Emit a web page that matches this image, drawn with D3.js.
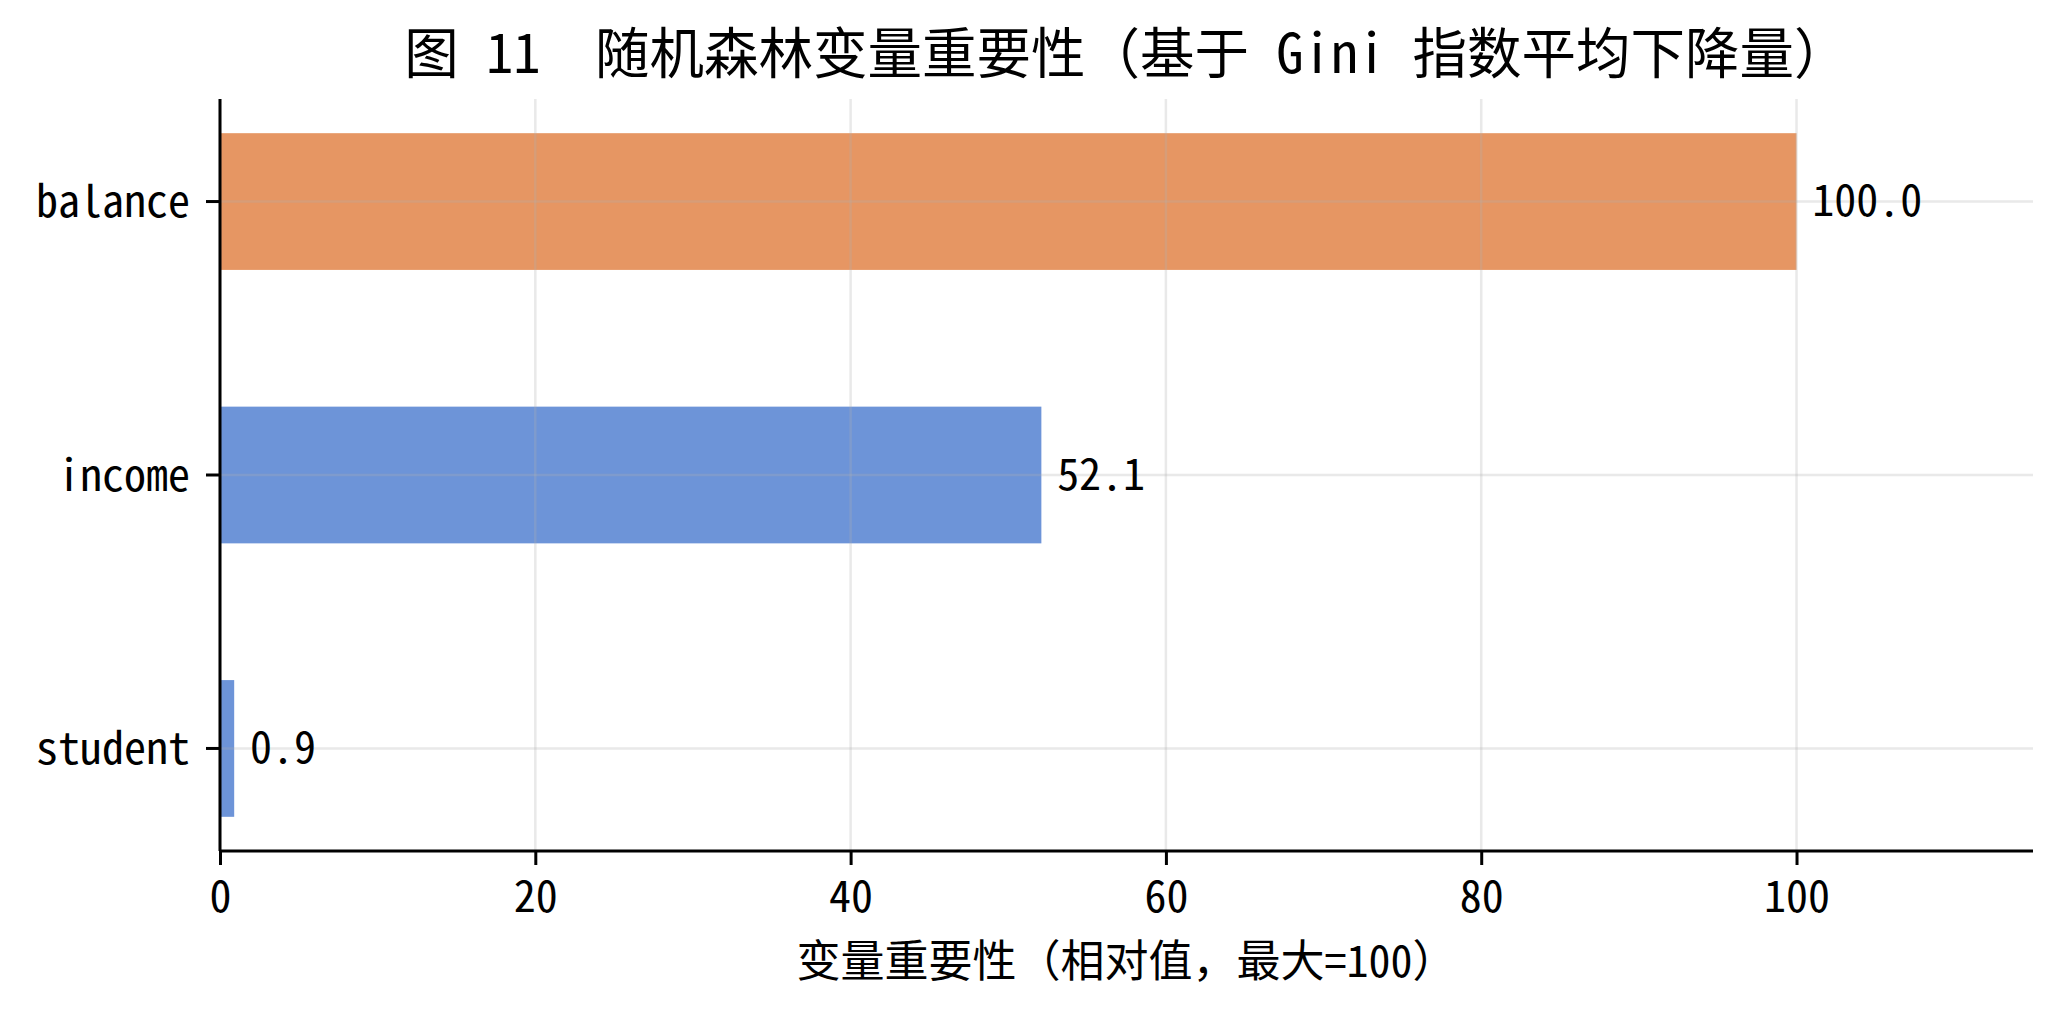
<!DOCTYPE html>
<html>
<head>
<meta charset="utf-8">
<script src="https://cdn.jsdelivr.net/npm/d3@7"></script>
<style>
	body { margin: 0; background: #fff; }
	text { font-family: "Noto Sans Mono CJK SC", "Noto Sans CJK SC", sans-serif; fill: #000; }
</style>
</head>
<body>
<div id="chart"></div>
<script>
// data
const features = ['balance', 'income', 'student'];
const importance = [100.0, 52.1, 0.9];
const barColors = ['#E69663', '#6D94D8', '#6D94D8'];
const xTicks = [0, 20, 40, 60, 80, 100];

const WIDTH = 2062;
const HEIGHT = 1011;
const margin = { top: 99, right: 29, bottom: 160, left: 220 };

var svg = d3.select('#chart').append('svg')
	.attr('width', WIDTH)
	.attr('height', HEIGHT);

var plotW = WIDTH - margin.left - margin.right;
var plotH = HEIGHT - margin.top - margin.bottom;

var g = svg.append('g')
	.attr('transform', 'translate(' + margin.left + ',' + margin.top + ')');

var x = d3.scaleLinear().domain([0, 115]).range([0, plotW]);
var y = d3.scaleBand().domain(features).range([0, plotH])
	.paddingInner(0.5).paddingOuter(0.125);

// bars first, grid goes on top of them
g.selectAll('.bar')
	.data(features)
	.enter().append('rect')
	.attr('class', 'bar')
	.attr('x', x(0))
	.attr('y', function(d) { return y(d); })
	.attr('width', function(d, i) { return x(importance[i]) - x(0); })
	.attr('height', y.bandwidth())
	.attr('fill', function(d, i) { return barColors[i]; });

// grid
g.append('g').selectAll('line')
	.data(xTicks)
	.enter().append('line')
	.attr('x1', function(d) { return x(d); })
	.attr('x2', function(d) { return x(d); })
	.attr('y1', 0).attr('y2', plotH)
	.attr('stroke', '#b0b0b0').attr('stroke-opacity', 0.28).attr('stroke-width', 2.5);
g.append('g').selectAll('line')
	.data(features)
	.enter().append('line')
	.attr('x1', 0).attr('x2', plotW)
	.attr('y1', function(d) { return y(d) + y.bandwidth() / 2; })
	.attr('y2', function(d) { return y(d) + y.bandwidth() / 2; })
	.attr('stroke', '#b0b0b0').attr('stroke-opacity', 0.28).attr('stroke-width', 2.5);

// value labels
g.selectAll('.val')
	.data(features)
	.enter().append('text')
	.attr('class', 'val')
	.attr('x', function(d, i) { return x(importance[i] + 1); })
	.attr('y', function(d) { return y(d) + y.bandwidth() / 2; })
	.attr('dy', '0.33em')
	.style('font-size', '44px')
	.text(function(d, i) { return importance[i].toFixed(1); });

// axes
var xAxis = g.append('g')
	.attr('transform', 'translate(0,' + plotH + ')')
	.call(d3.axisBottom(x).tickValues(xTicks).tickSize(14).tickPadding(16).tickFormat(d3.format('d')));
var yAxis = g.append('g')
	.call(d3.axisLeft(y).tickSize(14).tickPadding(16));

[xAxis, yAxis].forEach(function(ax) {
	ax.select('.domain').attr('stroke', '#000').attr('stroke-width', 3);
	ax.selectAll('.tick line').attr('stroke', '#000').attr('stroke-width', 3);
	ax.selectAll('.tick text').style('font-size', '44px').attr('fill', '#000');
});
xAxis.select('.domain').attr('d', 'M0,0H' + plotW);
yAxis.select('.domain').attr('d', 'M0,0V' + plotH);
yAxis.selectAll('.tick text').attr('dy', '0.36em');

// title and axis label
svg.append('text')
	.attr('x', margin.left + plotW / 2)
	.attr('y', 73)
	.attr('text-anchor', 'middle')
	.style('font-size', '54.5px')
	.style('white-space', 'pre')
	.text('图 11  随机森林变量重要性（基于 Gini 指数平均下降量）');

svg.append('text')
	.attr('x', margin.left + plotW / 2)
	.attr('y', 977)
	.attr('text-anchor', 'middle')
	.style('font-size', '44px')
	.text('变量重要性（相对值，最大=100）');
</script>
</body>
</html>
